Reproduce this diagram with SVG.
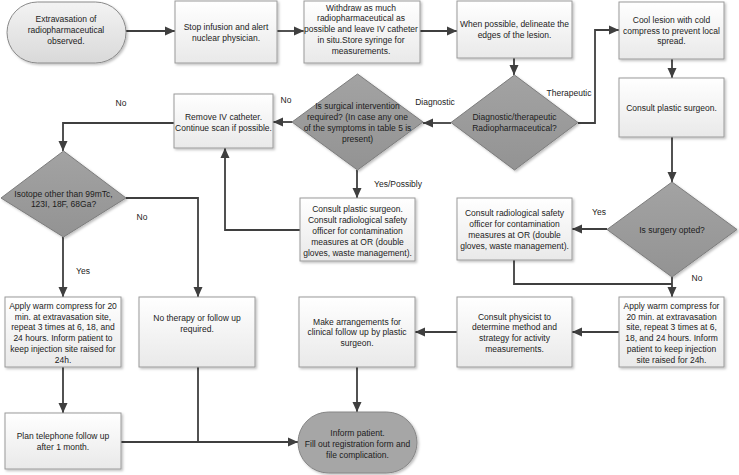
<svg xmlns="http://www.w3.org/2000/svg" width="739" height="475" viewBox="0 0 739 475">
<defs>
<linearGradient id="gBox" x1="0" y1="0" x2="0" y2="1"><stop offset="0" stop-color="#ffffff"/><stop offset="1" stop-color="#e9e9e9"/></linearGradient>
<linearGradient id="gStart" x1="0" y1="0" x2="0" y2="1"><stop offset="0" stop-color="#f3f3f3"/><stop offset="1" stop-color="#d9d9d9"/></linearGradient>
<linearGradient id="gDia" x1="0" y1="0" x2="0" y2="1"><stop offset="0" stop-color="#a3a3a3"/><stop offset="1" stop-color="#939393"/></linearGradient>
<filter id="sh" x="-10%" y="-10%" width="130%" height="130%"><feDropShadow dx="1.5" dy="1.5" stdDeviation="1" flood-color="#000" flood-opacity="0.25"/></filter>
<marker id="ah" markerUnits="userSpaceOnUse" markerWidth="10" markerHeight="10" refX="10" refY="5" orient="auto"><path d="M0,0.5 L10,5 L0,9.5 z" fill="#3f3f3f"/></marker>
<style>
.box{fill:url(#gBox);stroke:#9a9a9a;stroke-width:1;filter:url(#sh)}
.start{fill:url(#gStart);stroke:#8a8a8a;stroke-width:1;filter:url(#sh)}
.end{fill:#a6a6a6;stroke:#868686;stroke-width:1;filter:url(#sh)}
.dia{fill:url(#gDia);stroke:#7c7c7c;stroke-width:1;filter:url(#sh)}
text{font-family:"Liberation Sans",Arial,sans-serif;font-size:8.5px;fill:#1c1c1c;text-anchor:middle}
.c{fill:none;stroke:#3f3f3f;stroke-width:1.8}
.a{marker-end:url(#ah)}
</style>
</defs>

<g id="connectors">
<path class="c a" d="M126,31 H175"/>
<path class="c a" d="M277,31 H304"/>
<path class="c a" d="M420,31 H457"/>
<path class="c a" d="M514,58 V75"/>
<path class="c a" d="M578,123 H595 V30 H619"/>
<path class="c a" d="M451,123 H423"/>
<path class="c a" d="M292,122 H273"/>
<path class="c a" d="M357,170 V198"/>
<path class="c a" d="M300,230 H225 V148"/>
<path class="c a" d="M174,123 H63 V151"/>
<path class="c a" d="M126,198 H198 V297"/>
<path class="c a" d="M63,237 V297"/>
<path class="c a" d="M63,367 V413"/>
<path class="c a" d="M121,442 H298"/>
<path class="c" d="M198,367 V442"/>
<path class="c a" d="M357,367 V412"/>
<path class="c a" d="M457,332 H415"/>
<path class="c a" d="M619,332 H572"/>
<path class="c a" d="M672,59 V78"/>
<path class="c a" d="M672,137 V182"/>
<path class="c a" d="M607,229 H572"/>
<path class="c" d="M514,260 V284 H672"/>
<path class="c a" d="M672,277 V297"/>
<text x="121" y="106">No</text>
<text x="286" y="103">No</text>
<text x="435" y="105">Diagnostic</text>
<text x="569" y="96">Therapeutic</text>
<text x="398" y="187">Yes/Possibly</text>
<text x="142" y="220">No</text>
<text x="83" y="274">Yes</text>
<text x="599" y="215">Yes</text>
<text x="697" y="281">No</text>
</g>

<g id="n1"><rect class="start" x="7" y="2" width="119" height="61" rx="30.5"/>
<text x="66" y="22">Extravasation of</text><text x="66" y="33">radiopharmaceutical</text><text x="66" y="44">observed.</text></g>

<g id="n2"><rect class="box" x="175" y="1" width="102" height="62"/>
<text x="226" y="29.5">Stop infusion and alert</text><text x="226" y="40.5">nuclear physician.</text></g>

<g id="n3"><rect class="box" x="304" y="1" width="116" height="62"/>
<text x="361" y="10.5">Withdraw as much</text><text x="361" y="21.3">radiopharmaceutical as</text><text x="361" y="32">possible and leave IV catheter</text><text x="361" y="42.8">in situ.Store syringe for</text><text x="361" y="53.6">measurements.</text></g>

<g id="n4"><rect class="box" x="457" y="1" width="115" height="57"/>
<text x="514.5" y="27">When possible, delineate the</text><text x="514.5" y="37.7">edges of the lesion.</text></g>

<g id="n5"><rect class="box" x="619" y="2" width="105" height="57"/>
<text x="671.5" y="23">Cool lesion with cold</text><text x="671.5" y="33.7">compress to prevent local</text><text x="671.5" y="44.4">spread.</text></g>

<g id="n6"><rect class="box" x="619" y="78" width="105" height="59"/>
<text x="671.5" y="111">Consult plastic surgeon.</text></g>

<g id="n7"><polygon class="dia" points="514.5,75 578,122.5 514.5,170 451,122.5"/>
<text x="514.5" y="120">Diagnostic/therapeutic</text><text x="514.5" y="131">Radiopharmaceutical?</text></g>

<g id="n8"><polygon class="dia" points="357.5,74 423,122 357.5,170 292,122"/>
<text x="357.5" y="109">Is surgical intervention</text><text x="357.5" y="120">required? (In case any one</text><text x="357.5" y="131">of the symptoms in table 5 is</text><text x="357.5" y="142">present)</text></g>

<g id="n9"><rect class="box" x="174" y="94" width="99" height="54"/>
<text x="223.5" y="120">Remove IV catheter.</text><text x="223.5" y="131">Continue scan if possible.</text></g>

<g id="n10"><rect class="box" x="300" y="198" width="115" height="63"/>
<text x="357.5" y="212">Consult plastic surgeon.</text><text x="357.5" y="223">Consult radiological safety</text><text x="357.5" y="234">officer for contamination</text><text x="357.5" y="245">measures at OR (double</text><text x="357.5" y="256">gloves, waste management).</text></g>

<g id="n11"><polygon class="dia" points="63.5,151 126,198 63.5,237 1,198"/>
<text x="63.5" y="196.5">Isotope other than 99mTc,</text><text x="63.5" y="207">123I, 18F, 68Ga?</text></g>

<g id="n12"><polygon class="dia" points="672,182 737,229.5 672,277 607,229.5"/>
<text x="672" y="232.5">Is surgery opted?</text></g>

<g id="n13"><rect class="box" x="457" y="198" width="115" height="62"/>
<text x="514.5" y="216">Consult radiological safety</text><text x="514.5" y="227">officer for contamination</text><text x="514.5" y="238">measures at OR (double</text><text x="514.5" y="249">gloves, waste management).</text></g>

<g id="n14"><rect class="box" x="5" y="297" width="116" height="70"/>
<text x="63" y="309">Apply warm compress for 20</text><text x="63" y="319.7">min. at extravasation site,</text><text x="63" y="330.4">repeat 3 times at 6, 18, and</text><text x="63" y="341.1">24 hours. Inform patient to</text><text x="63" y="351.8">keep injection site raised for</text><text x="63" y="362.5">24h.</text></g>

<g id="n15"><rect class="box" x="139" y="297" width="116" height="70"/>
<text x="197" y="321">No therapy or follow up</text><text x="197" y="331.7">required.</text></g>

<g id="n16"><rect class="box" x="299" y="297" width="116" height="70"/>
<text x="357" y="324.5">Make arrangements for</text><text x="357" y="335.2">clinical follow up by plastic</text><text x="357" y="345.9">surgeon.</text></g>

<g id="n17"><rect class="box" x="457" y="297" width="115" height="70"/>
<text x="514.5" y="319.5">Consult physicist to</text><text x="514.5" y="330.2">determine method and</text><text x="514.5" y="340.9">strategy for activity</text><text x="514.5" y="351.6">measurements.</text></g>

<g id="n18"><rect class="box" x="619" y="297" width="105" height="70"/>
<text x="671.5" y="309">Apply warm compress for</text><text x="671.5" y="319.7">20 min. at extravasation</text><text x="671.5" y="330.4">site, repeat 3 times at 6,</text><text x="671.5" y="341.1">18, and 24 hours. Inform</text><text x="671.5" y="351.8">patient to keep injection</text><text x="671.5" y="362.5">site raised for 24h.</text></g>

<g id="n19"><rect class="box" x="5" y="413" width="116" height="56"/>
<text x="63" y="439">Plan telephone follow up</text><text x="63" y="450">after 1 month.</text></g>

<g id="n20"><rect class="end" x="298" y="412" width="119" height="61" rx="30.5"/>
<text x="357.5" y="436">Inform patient.</text><text x="357.5" y="447">Fill out registration form and</text><text x="357.5" y="458">file complication.</text></g>
</svg>
